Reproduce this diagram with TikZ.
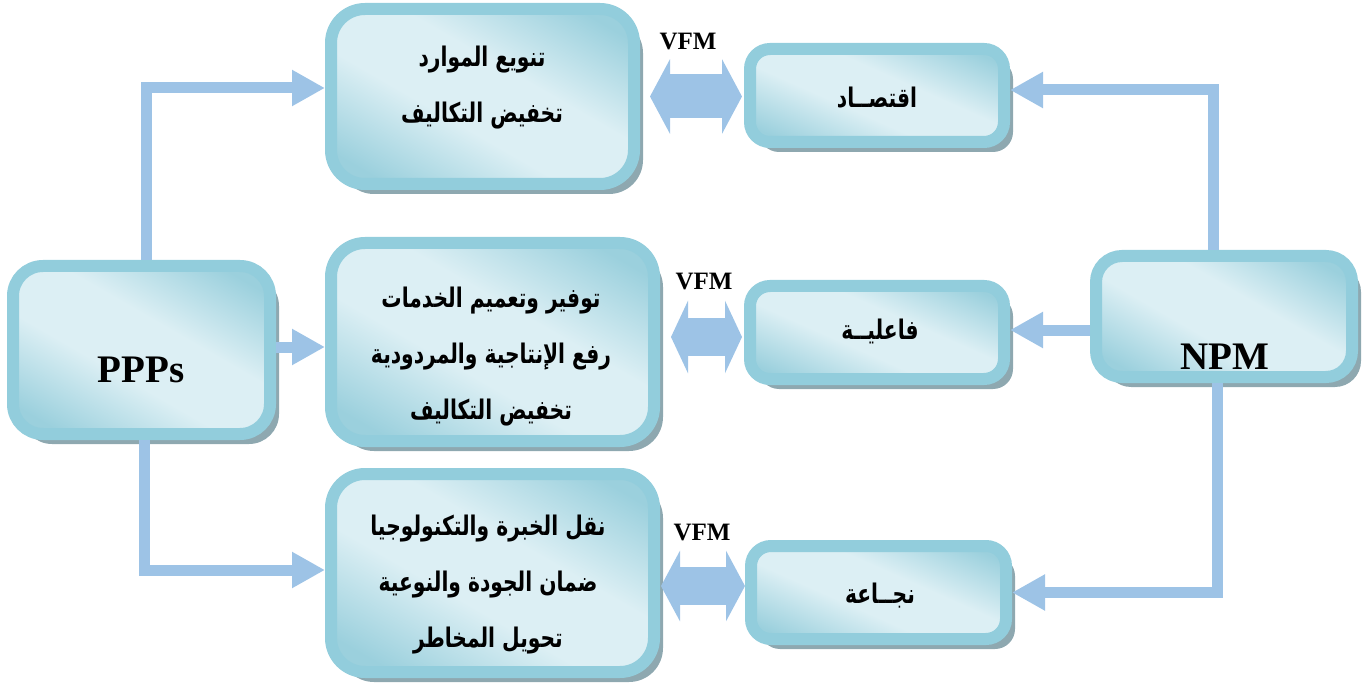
\documentclass[tikz,border=0pt]{standalone}
\usepackage{fontspec}
\usetikzlibrary{arrows.meta,shadows,calc}
\TeXXeTstate=1
\newfontfamily\arabicfont[Script=Arabic,FakeStretch=0.75]{DejaVu Sans}
\newfontfamily\latinfont{Liberation Serif}
\newcommand{\artext}[1]{\beginR #1\endR}

\definecolor{boxedge}{HTML}{92CDDC}
\definecolor{boxlight}{HTML}{DCEFF4}
\definecolor{boxdark}{HTML}{9BD0DD}
\definecolor{boxshadow}{HTML}{8EA8B0}
\definecolor{flow}{HTML}{9DC3E6}

% diagonal band: dark corners, broad light middle
\pgfdeclareverticalshading{boxband}{100bp}{color(0bp)=(boxdark); color(22bp)=(boxdark);
  color(42bp)=(boxlight); color(58bp)=(boxlight); color(78bp)=(boxdark); color(100bp)=(boxdark)}

\tikzset{
  box/.style={draw=boxedge, line width=6pt, shade, shading=boxband, shading angle=-30,
    inner sep=0pt,
    drop shadow={shadow xshift=4.5pt, shadow yshift=-5pt, fill=boxshadow, opacity=1}},
  bigbox/.style={box, rounded corners=17pt},
  smallbox/.style={box, rounded corners=10pt, shading angle=-24},
  artxt/.style={font=\arabicfont\bfseries\fontsize{13.5}{28}\selectfont, align=center, inner sep=0pt},
  vfm/.style={font=\latinfont\bfseries\fontsize{12.5}{15}\selectfont, inner sep=0pt},
  title/.style={font=\latinfont\bfseries\fontsize{19.5}{23}\selectfont, inner sep=0pt},
  flowline/.style={draw=flow, line width=5.5pt, -{Triangle[width=17pt,length=16.5pt]}},
  twoway/.style={draw=flow, line width=#1},
}

\begin{document}
\begin{tikzpicture}[x=0.5pt,y=-0.5pt]
\useasboundingbox (0,0) rectangle (1362,690);

% boxes
\node[bigbox, minimum width=151.5pt, minimum height=87.5pt] (A) at (482.5,96.5) {};
\node[bigbox, minimum width=161.5pt, minimum height=99pt] (B) at (492.5,342) {};
\node[bigbox, minimum width=161.5pt, minimum height=99pt] (C) at (492.5,573) {};
\node[smallbox, minimum width=127pt, minimum height=46.5pt] (E) at (877,95.5) {};
\node[smallbox, minimum width=127pt, minimum height=46.5pt] (F) at (877,332.5) {};
\node[smallbox, minimum width=127.5pt, minimum height=46.5pt] (G) at (878.5,592.5) {};
\node[bigbox, rounded corners=15pt, minimum width=128.5pt, minimum height=84pt] (P) at (141.5,350) {};
\node[bigbox, rounded corners=13pt, minimum width=128pt, minimum height=60.5pt] (N) at (1224,316.5) {};

% texts
\node[artxt] (At) at (482,88) {\artext{تنويع الموارد}\\\artext{تخفيض التكاليف}};
\node[artxt] (Bt) at (491,357) {\artext{توفير وتعميم الخدمات}\\\artext{رفع الإنتاجية والمردودية}\\\artext{تخفيض التكاليف}};
\node[artxt] (Ct) at (488,585) {\artext{نقل الخبرة والتكنولوجيا}\\\artext{ضمان الجودة والنوعية}\\\artext{تحويل المخاطر}};
\node[artxt] (Et) at (877,98) {\artext{اقتصــاد}};
\node[artxt] (Ft) at (880,331) {\artext{فاعليــة}};
\node[artxt] (Gt) at (880,596) {\artext{نجــاعة}};
\node[title] (Pt) at (141,370) {PPPs};
\node[title] (Nt) at (1225,357) {NPM};

% VFM labels
\node[vfm] (v1) at (688,42) {VFM};
\node[vfm] (v2) at (704,282) {VFM};
\node[vfm] (v3) at (702,533) {VFM};

% PPPs connectors
\draw[flowline] ([xshift=2.25pt]P.north) |- ([yshift=4.25pt]A.west);
\draw[flowline] ([yshift=1.5pt]P.east) -- ([yshift=1.5pt]P.east -| B.west);
\draw[flowline] ([xshift=1.25pt]P.south) |- ([yshift=1.5pt]C.west);

% NPM connectors
\draw[flowline] ([xshift=-5.5pt]N.north) |- ([yshift=2.75pt]E.east);
\draw[flowline] ([yshift=-6.75pt]N.west) -- ([yshift=-6.75pt]N.west -| F.east);
\draw[flowline] ([xshift=-3.5pt]N.south) |- (G.east);

% value-for-money links
\draw[twoway=22pt, {Triangle[width=37pt,length=10pt]}-{Triangle[width=37pt,length=10pt]}]
  ([xshift=5pt]A.east) -- ([xshift=-1pt]E.west |- A.east);
\draw[twoway=19pt, {Triangle[width=36pt,length=8.5pt]}-{Triangle[width=36pt,length=8.5pt]}]
  ([xshift=5.5pt,yshift=2.5pt]B.east) -- ([xshift=-1pt,yshift=2.5pt]F.west |- B.east);
\draw[twoway=19pt, {Triangle[width=35pt,length=9.5pt]}-{Triangle[width=35pt,length=9.5pt]}]
  ([xshift=0.5pt,yshift=-6.5pt]C.east) -- ([yshift=-6.5pt]G.west |- C.east);
\end{tikzpicture}
\end{document}
